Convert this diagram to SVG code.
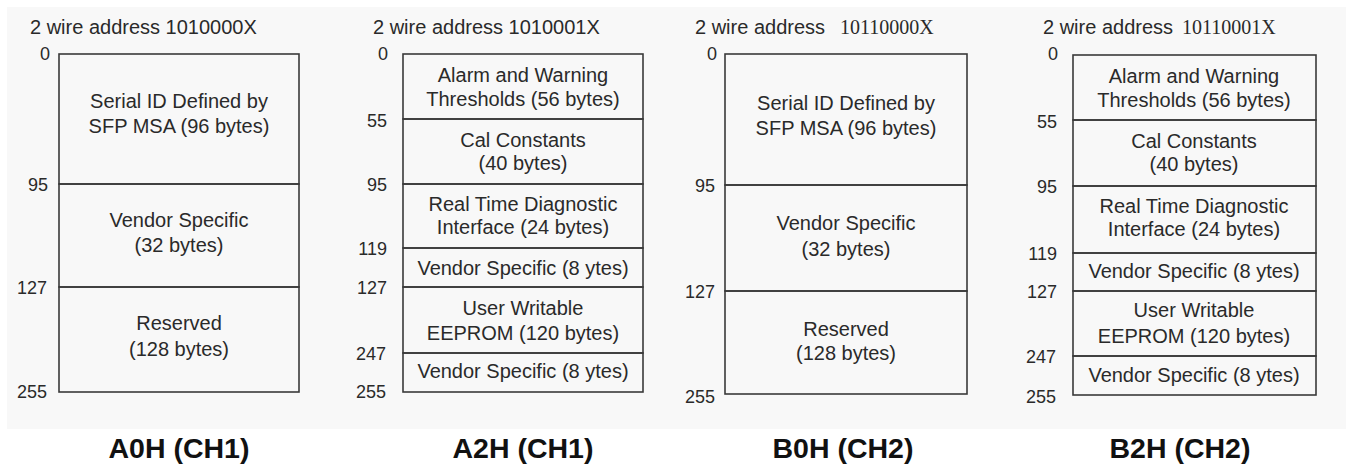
<svg xmlns="http://www.w3.org/2000/svg" width="1346" height="465" viewBox="0 0 1346 465">
<style>
  .bg { fill: #f8f8f8; }
  .cell { fill: none; stroke: #3a3a3a; stroke-width: 1.6; }
  .t { font-family: "Liberation Sans", Arial, sans-serif; font-size: 20px; fill: #2a2a2a; text-anchor: middle; }
  .hdr { font-family: "Liberation Sans", Arial, sans-serif; font-size: 20px; fill: #2a2a2a; }
  .ser { font-family: "Liberation Serif", "Times New Roman", serif; font-size: 20px; fill: #2a2a2a; }
  .lbl { font-family: "Liberation Sans", Arial, sans-serif; font-size: 18px; fill: #2a2a2a; text-anchor: end; }
  .title { font-family: "Liberation Sans", Arial, sans-serif; font-size: 28.5px; font-weight: bold; fill: #111; text-anchor: middle; }
</style>
<rect x="0" y="0" width="1346" height="465" fill="#ffffff"/>
<rect class="bg" x="7" y="7" width="1339" height="422"/>

<g id="connectors"/>

<!-- A0H -->
<g id="A0H">
  <text class="hdr" x="30" y="34">2 wire address 1010000X</text>
  <g id="A0H-serial">
    <rect class="cell" x="59" y="54" width="240" height="130"/>
    <text class="t" x="179" y="108">Serial ID Defined by</text>
    <text class="t" x="179" y="133">SFP MSA (96 bytes)</text>
  </g>
  <g id="A0H-vendor">
    <rect class="cell" x="59" y="184" width="240" height="103"/>
    <text class="t" x="179" y="227">Vendor Specific</text>
    <text class="t" x="179" y="252">(32 bytes)</text>
  </g>
  <g id="A0H-reserved">
    <rect class="cell" x="59" y="287" width="240" height="105"/>
    <text class="t" x="179" y="330">Reserved</text>
    <text class="t" x="179" y="356">(128 bytes)</text>
  </g>
  <text class="lbl" x="50" y="60">0</text>
  <text class="lbl" x="48" y="191">95</text>
  <text class="lbl" x="47" y="294">127</text>
  <text class="lbl" x="47" y="398">255</text>
  <text class="title" x="179" y="458">A0H (CH1)</text>
</g>

<!-- A2H -->
<g id="A2H">
  <text class="hdr" x="373" y="34">2 wire address 1010001X</text>
  <g id="A2H-alarm">
    <rect class="cell" x="403" y="54" width="240" height="65"/>
    <text class="t" x="523" y="82">Alarm and Warning</text>
    <text class="t" x="523" y="106">Thresholds (56 bytes)</text>
  </g>
  <g id="A2H-cal">
    <rect class="cell" x="403" y="119" width="240" height="65"/>
    <text class="t" x="523" y="147">Cal Constants</text>
    <text class="t" x="523" y="170">(40 bytes)</text>
  </g>
  <g id="A2H-rtd">
    <rect class="cell" x="403" y="184" width="240" height="64"/>
    <text class="t" x="523" y="211">Real Time Diagnostic</text>
    <text class="t" x="523" y="234">Interface (24 bytes)</text>
  </g>
  <g id="A2H-vendor1">
    <rect class="cell" x="403" y="248" width="240" height="39"/>
    <text class="t" x="523" y="275">Vendor Specific (8 ytes)</text>
  </g>
  <g id="A2H-eeprom">
    <rect class="cell" x="403" y="287" width="240" height="66"/>
    <text class="t" x="523" y="315">User Writable</text>
    <text class="t" x="523" y="340">EEPROM (120 bytes)</text>
  </g>
  <g id="A2H-vendor2">
    <rect class="cell" x="403" y="353" width="240" height="39"/>
    <text class="t" x="523" y="378">Vendor Specific (8 ytes)</text>
  </g>
  <text class="lbl" x="388" y="60">0</text>
  <text class="lbl" x="387" y="127">55</text>
  <text class="lbl" x="387" y="191">95</text>
  <text class="lbl" x="387" y="255">119</text>
  <text class="lbl" x="387" y="294">127</text>
  <text class="lbl" x="386" y="360">247</text>
  <text class="lbl" x="386" y="398">255</text>
  <text class="title" x="523" y="458">A2H (CH1)</text>
</g>

<!-- B0H -->
<g id="B0H">
  <text x="695" y="34"><tspan class="hdr">2 wire address</tspan><tspan class="ser" x="840">10110000X</tspan></text>
  <g id="B0H-serial">
    <rect class="cell" x="725" y="54" width="242" height="131"/>
    <text class="t" x="846" y="110">Serial ID Defined by</text>
    <text class="t" x="846" y="135">SFP MSA (96 bytes)</text>
  </g>
  <g id="B0H-vendor">
    <rect class="cell" x="725" y="185" width="242" height="106"/>
    <text class="t" x="846" y="230">Vendor Specific</text>
    <text class="t" x="846" y="256">(32 bytes)</text>
  </g>
  <g id="B0H-reserved">
    <rect class="cell" x="725" y="291" width="242" height="103"/>
    <text class="t" x="846" y="336">Reserved</text>
    <text class="t" x="846" y="360">(128 bytes)</text>
  </g>
  <text class="lbl" x="717" y="60">0</text>
  <text class="lbl" x="715" y="192">95</text>
  <text class="lbl" x="715" y="298">127</text>
  <text class="lbl" x="715" y="403">255</text>
  <text class="title" x="843" y="458">B0H (CH2)</text>
</g>

<!-- B2H -->
<g id="B2H">
  <text x="1043" y="34"><tspan class="hdr">2 wire address</tspan><tspan class="ser" x="1182">10110001X</tspan></text>
  <g id="B2H-alarm">
    <rect class="cell" x="1073" y="55" width="243" height="65"/>
    <text class="t" x="1194" y="83">Alarm and Warning</text>
    <text class="t" x="1194" y="107">Thresholds (56 bytes)</text>
  </g>
  <g id="B2H-cal">
    <rect class="cell" x="1073" y="120" width="243" height="66"/>
    <text class="t" x="1194" y="148">Cal Constants</text>
    <text class="t" x="1194" y="171">(40 bytes)</text>
  </g>
  <g id="B2H-rtd">
    <rect class="cell" x="1073" y="186" width="243" height="67"/>
    <text class="t" x="1194" y="213">Real Time Diagnostic</text>
    <text class="t" x="1194" y="236">Interface (24 bytes)</text>
  </g>
  <g id="B2H-vendor1">
    <rect class="cell" x="1073" y="253" width="243" height="38"/>
    <text class="t" x="1194" y="278">Vendor Specific (8 ytes)</text>
  </g>
  <g id="B2H-eeprom">
    <rect class="cell" x="1073" y="291" width="243" height="65"/>
    <text class="t" x="1194" y="317">User Writable</text>
    <text class="t" x="1194" y="343">EEPROM (120 bytes)</text>
  </g>
  <g id="B2H-vendor2">
    <rect class="cell" x="1073" y="356" width="243" height="39"/>
    <text class="t" x="1194" y="382">Vendor Specific (8 ytes)</text>
  </g>
  <text class="lbl" x="1058" y="60">0</text>
  <text class="lbl" x="1057" y="128">55</text>
  <text class="lbl" x="1057" y="193">95</text>
  <text class="lbl" x="1057" y="260">119</text>
  <text class="lbl" x="1057" y="298">127</text>
  <text class="lbl" x="1056" y="363">247</text>
  <text class="lbl" x="1056" y="403">255</text>
  <text class="title" x="1180" y="458">B2H (CH2)</text>
</g>
</svg>
